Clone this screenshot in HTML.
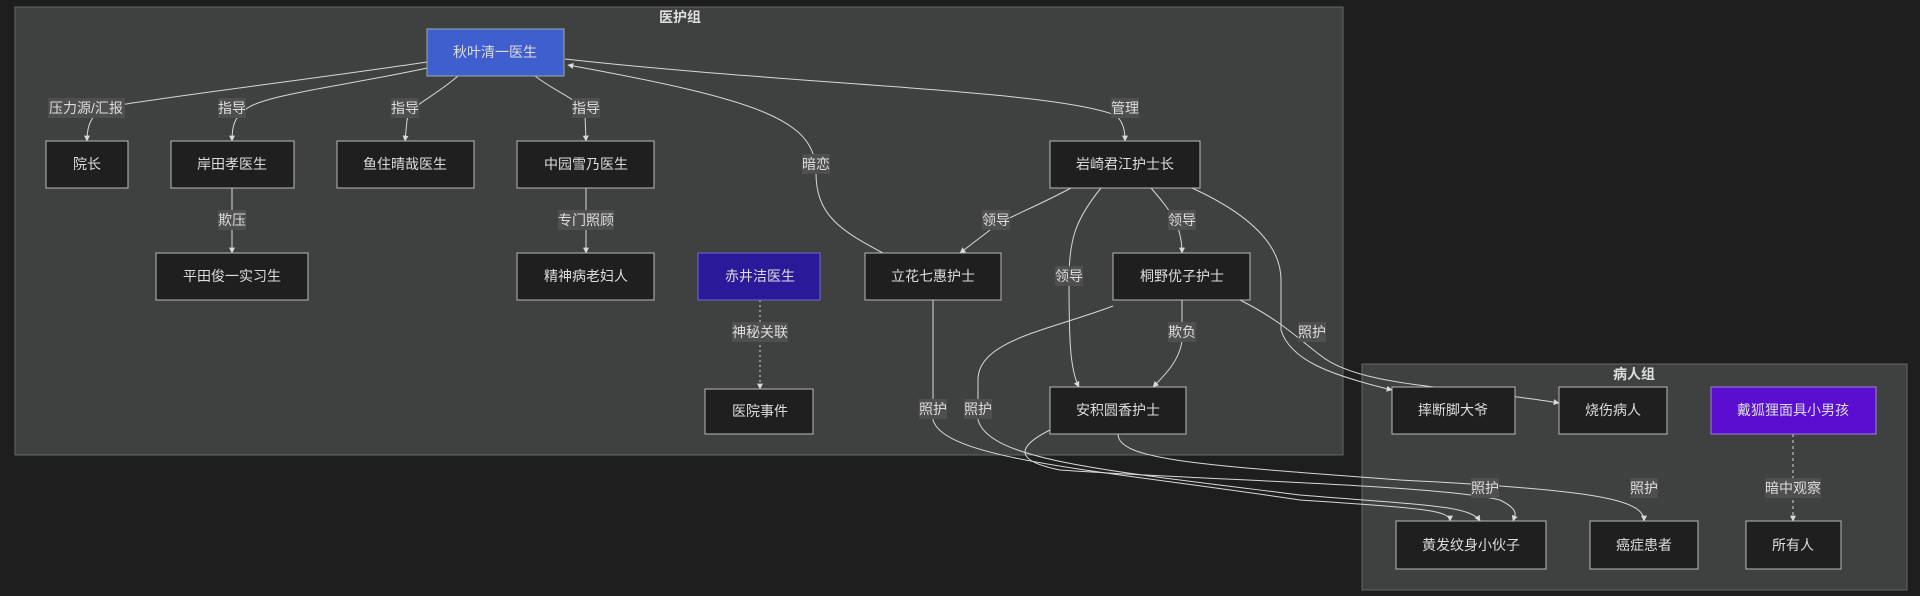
<!DOCTYPE html>
<html><head><meta charset="utf-8"><style>
html,body{margin:0;padding:0;background:#1e1e1e;width:1920px;height:596px;overflow:hidden}
svg{position:absolute;left:0;top:0}
text{font-family:"Liberation Sans","Noto Sans CJK SC",sans-serif;font-size:14px;fill:#dddddd;text-anchor:middle;dominant-baseline:central}
.n{fill:#1f1f1f;stroke:#b8b8b8;stroke-width:1}
.e{fill:none;stroke:#d8d8d8;stroke-width:1}
.lb{fill:#4f4f4f}
</style></head><body>
<svg width="1920" height="596" viewBox="0 0 1920 596">
<defs><marker id="a" viewBox="0 0 10 10" refX="9" refY="5" markerWidth="6" markerHeight="6" orient="auto-start-reverse"><path d="M0,0L10,5L0,10z" fill="#d8d8d8"/></marker></defs>
<rect x="15" y="7" width="1328" height="448" fill="#3f4040" stroke="#666" />
<text x="680" y="17" style="font-weight:bold">医护组</text>
<rect x="1362" y="364" width="545" height="226" fill="#3f4040" stroke="#666" />
<text x="1634" y="374" style="font-weight:bold">病人组</text>

<g marker-end="url(#a)">
<path class="e" d="M427,62 C320,78 180,95 120,105 C95,110 87,118 87,141"/>
<path class="e" d="M427,68 C350,85 260,95 245,110 C235,117 232,125 232,141"/>
<path class="e" d="M458,76 C430,100 410,105 407,120 L405,141"/>
<path class="e" d="M535,76 C560,95 582,100 585,115 L586,141"/>
<path class="e" d="M232,188 L232,253"/>
<path class="e" d="M586,188 L586,253"/>
<path class="e" d="M565,59 C800,85 1050,90 1115,115 C1122,120 1125,128 1125,141"/>
<path class="e" d="M883,253 C840,230 815,215 816,170 C814,120 760,100 568,65"/>
<path class="e" d="M1071,188 C1030,210 1000,220 990,230 L960,253"/>
<path class="e" d="M1101,188 C1075,220 1069,240 1069,280 C1069,340 1070,370 1079,387"/>
<path class="e" d="M1151,188 C1170,210 1182,225 1182,253"/>
<path class="e" d="M1192,188 C1240,210 1281,240 1281,280 L1281,330 C1290,360 1330,375 1392,390"/>
<path class="e" d="M1182,300 L1182,340 C1180,360 1165,375 1153,387"/>
<path class="e" d="M1240,300 C1280,320 1300,340 1320,355 C1350,380 1420,385 1460,390 C1500,395 1530,398 1559,403"/>
<path class="e" d="M1113,306 C1050,330 978,340 978,380 L978,420 C990,460 1100,470 1300,495 C1420,505 1470,505 1480,521"/>
<path class="e" d="M933,300 L933,420 C945,460 1100,470 1300,500 C1420,508 1450,510 1450,521"/>
<path class="e" d="M1050,430 C1020,445 1010,460 1060,470 C1200,480 1440,485 1500,500 C1520,510 1515,515 1513,521"/>
<path class="e" d="M1118,434 C1118,460 1200,465 1400,480 C1600,490 1644,500 1644,521"/>
<path class="e" d="M760,300 L760,389" stroke-dasharray="2,3"/>
<path class="e" d="M1793,434 L1793,521" stroke-dasharray="3,3"/>
</g>

<rect x="427" y="29" width="137" height="47" fill="#3f5fce" stroke="#9aa"/>
<text x="495" y="52">秋叶清一医生</text>
<rect class="n" x="46" y="141" width="82" height="47"/><text x="87" y="164">院长</text>
<rect class="n" x="171" y="141" width="123" height="47"/><text x="232" y="164">岸田孝医生</text>
<rect class="n" x="337" y="141" width="137" height="47"/><text x="405" y="164">鱼住晴哉医生</text>
<rect class="n" x="517" y="141" width="137" height="47"/><text x="586" y="164">中园雪乃医生</text>
<rect class="n" x="1050" y="141" width="150" height="47"/><text x="1125" y="164">岩崎君江护士长</text>
<rect class="n" x="156" y="253" width="152" height="47"/><text x="232" y="276">平田俊一实习生</text>
<rect class="n" x="517" y="253" width="137" height="47"/><text x="586" y="276">精神病老妇人</text>
<rect x="698" y="253" width="122" height="47" fill="#2a1a9a" stroke="#6a6ad0"/><text x="760" y="276">赤井洁医生</text>
<rect class="n" x="865" y="253" width="136" height="47"/><text x="933" y="276">立花七惠护士</text>
<rect class="n" x="1113" y="253" width="137" height="47"/><text x="1182" y="276">桐野优子护士</text>
<rect class="n" x="705" y="389" width="108" height="45"/><text x="760" y="411">医院事件</text>
<rect class="n" x="1050" y="387" width="136" height="47"/><text x="1118" y="410">安积圆香护士</text>
<rect class="n" x="1392" y="387" width="123" height="47"/><text x="1453" y="410">摔断脚大爷</text>
<rect class="n" x="1559" y="387" width="108" height="47"/><text x="1613" y="410">烧伤病人</text>
<rect x="1711" y="387" width="165" height="47" fill="#5a0fd0" stroke="#a080e0"/><text x="1793" y="410">戴狐狸面具小男孩</text>
<rect class="n" x="1396" y="521" width="150" height="48"/><text x="1471" y="545">黄发纹身小伙子</text>
<rect class="n" x="1590" y="521" width="108" height="48"/><text x="1644" y="545">癌症患者</text>
<rect class="n" x="1746" y="521" width="95" height="48"/><text x="1793" y="545">所有人</text>

<g>
<rect class="lb" x="48" y="98" width="77" height="20"/><text x="86" y="108">压力源/汇报</text>
<rect class="lb" x="218" y="98" width="28" height="20"/><text x="232" y="108">指导</text>
<rect class="lb" x="391" y="98" width="28" height="20"/><text x="405" y="108">指导</text>
<rect class="lb" x="572" y="98" width="28" height="20"/><text x="586" y="108">指导</text>
<rect class="lb" x="1111" y="98" width="28" height="20"/><text x="1125" y="108">管理</text>
<rect class="lb" x="802" y="154" width="28" height="20"/><text x="816" y="164">暗恋</text>
<rect class="lb" x="218" y="210" width="28" height="20"/><text x="232" y="220">欺压</text>
<rect class="lb" x="558" y="210" width="56" height="20"/><text x="586" y="220">专门照顾</text>
<rect class="lb" x="982" y="210" width="28" height="20"/><text x="996" y="220">领导</text>
<rect class="lb" x="1168" y="210" width="28" height="20"/><text x="1182" y="220">领导</text>
<rect class="lb" x="1055" y="266" width="28" height="20"/><text x="1069" y="276">领导</text>
<rect class="lb" x="732" y="322" width="56" height="20"/><text x="760" y="332">神秘关联</text>
<rect class="lb" x="1168" y="322" width="28" height="20"/><text x="1182" y="332">欺负</text>
<rect class="lb" x="1298" y="322" width="28" height="20"/><text x="1312" y="332">照护</text>
<rect class="lb" x="919" y="399" width="28" height="20"/><text x="933" y="409">照护</text>
<rect class="lb" x="964" y="399" width="28" height="20"/><text x="978" y="409">照护</text>
<rect class="lb" x="1471" y="478" width="28" height="20"/><text x="1485" y="488">照护</text>
<rect class="lb" x="1630" y="478" width="28" height="20"/><text x="1644" y="488">照护</text>
<rect class="lb" x="1765" y="478" width="56" height="20"/><text x="1793" y="488">暗中观察</text>
</g>
</svg>
</body></html>
